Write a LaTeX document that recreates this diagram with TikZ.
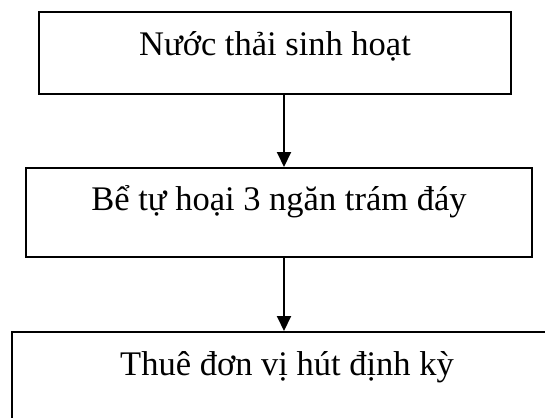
\documentclass[tikz,border=0pt]{standalone}
\usepackage{fontspec}
\setmainfont{Liberation Serif}
\usetikzlibrary{arrows.meta}
\begin{document}
\begin{tikzpicture}[x=1pt,y=-1pt,
  flowbox/.style={draw=black,line width=2pt,rectangle,inner sep=0pt,
    font=\fontsize{34.5}{40}\selectfont},
  flowarrow/.style={line width=2pt,-{Triangle[length=15pt,width=14pt]}}]
  \useasboundingbox (0,0) rectangle (545,417);
  \clip (0,0) rectangle (545,417);
  % boxes: text height/depth place each baseline about 42pt below the top edge
  \node[flowbox,minimum width=472pt,text height=44pt,text depth=38pt,anchor=north west]
    (b1) at (38,11) {Nước thải sinh hoạt};
  \node[flowbox,minimum width=506pt,text height=42pt,text depth=47pt,anchor=north west]
    (b2) at (25,167) {Bể tự hoại 3 ngăn trám đáy};
  \node[flowbox,minimum width=550pt,text height=43pt,text depth=60pt,anchor=north west]
    (b3) at (11,331) {Thuê đơn vị hút định kỳ};
  % vertical guide for the connectors
  \coordinate (ax) at (284,0);
  \draw[flowarrow] (b1.south -| ax) -- (b2.north -| ax);
  \draw[flowarrow] (b2.south -| ax) -- (b3.north -| ax);
\end{tikzpicture}
\end{document}
